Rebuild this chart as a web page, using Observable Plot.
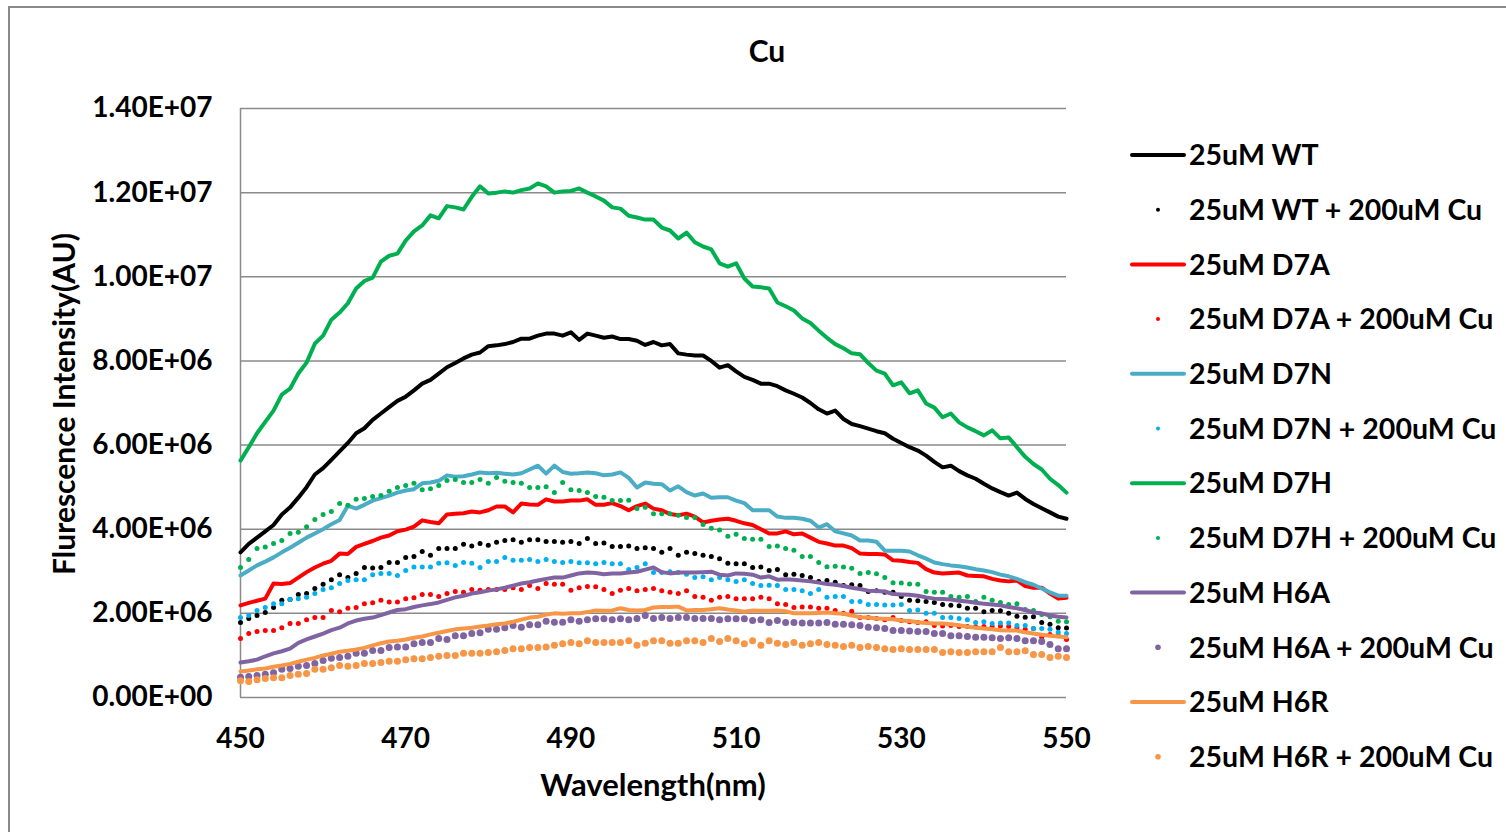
<!DOCTYPE html>
<html>
<head>
<meta charset="utf-8">
<script src="https://cdn.jsdelivr.net/npm/d3@7"></script>
<script src="https://cdn.jsdelivr.net/npm/@observablehq/plot@0.6"></script>
<style>
  body { margin: 0; background: #fff; overflow: hidden; }
  #wrap { position: relative; width: 1506px; height: 832px; }
  #frame { position: absolute; left: 8px; top: 6px; width: 1530px; height: 850px;
           border: 2px solid #8a8a8a; box-sizing: border-box; pointer-events: none; }
  #wrap svg { position: absolute; left: 0; top: 0; }
</style>
</head>
<body>
<div id="wrap"><div id="frame"></div></div>
<script>
// Fluorescence emission spectra (intensity in units of 1e6 AU), 450–550 nm in 1 nm steps
const wavelengths = d3.range(450, 551);
const xTicks = [450, 470, 490, 510, 530, 550];
const yTicks = [0, 2e6, 4e6, 6e6, 8e6, 10e6, 12e6, 14e6];

const wt = [3.45,3.65,3.8,3.95,4.1,4.35,4.52,4.75,5.0,5.3,5.45,5.65,5.85,6.05,6.28,6.4,6.6,6.75,6.9,7.05,
  7.15,7.3,7.46,7.55,7.7,7.85,7.95,8.06,8.15,8.2,8.35,8.37,8.4,8.45,8.53,8.53,8.6,8.65,8.65,8.6,
  8.68,8.5,8.65,8.6,8.55,8.58,8.52,8.52,8.48,8.38,8.45,8.37,8.4,8.18,8.15,8.13,8.13,8.0,7.84,7.9,
  7.75,7.62,7.55,7.46,7.46,7.4,7.3,7.22,7.13,7.0,6.85,6.75,6.82,6.62,6.5,6.45,6.39,6.33,6.28,6.15,
  6.05,5.95,5.87,5.75,5.6,5.47,5.51,5.38,5.28,5.2,5.08,4.97,4.88,4.8,4.87,4.72,4.6,4.5,4.4,4.3,4.25];
const wtCu = [1.78,1.88,1.95,2.02,2.14,2.31,2.33,2.45,2.47,2.59,2.69,2.8,2.92,2.85,2.95,3.09,3.08,3.09,3.21,3.21,3.33,
  3.35,3.47,3.38,3.54,3.54,3.54,3.64,3.6,3.66,3.62,3.69,3.73,3.75,3.69,3.75,3.75,3.71,3.71,3.69,3.71,
  3.66,3.78,3.66,3.67,3.59,3.59,3.6,3.54,3.56,3.54,3.45,3.54,3.38,3.45,3.42,3.38,3.35,3.3,3.19,3.18,
  3.18,3.09,3.1,3.02,3.04,2.92,2.93,2.9,2.85,2.76,2.78,2.74,2.66,2.68,2.66,2.52,2.54,2.5,2.5,
  2.4,2.31,2.3,2.28,2.26,2.21,2.19,2.18,2.12,2.12,2.04,2.07,2.06,2.0,1.93,1.91,1.92,1.78,1.74,1.66,1.65];
const d7a = [2.19,2.25,2.3,2.35,2.71,2.7,2.72,2.85,2.98,3.09,3.18,3.25,3.42,3.41,3.58,3.65,3.72,3.8,3.85,3.95,
  3.99,4.06,4.21,4.17,4.14,4.35,4.37,4.38,4.42,4.4,4.45,4.54,4.54,4.4,4.61,4.59,4.58,4.71,4.66,4.66,
  4.68,4.68,4.71,4.58,4.58,4.62,4.55,4.45,4.55,4.61,4.49,4.45,4.36,4.33,4.37,4.3,4.16,4.2,4.23,4.25,
  4.2,4.14,4.1,4.0,3.9,3.9,3.95,3.88,3.9,3.8,3.7,3.66,3.61,3.61,3.55,3.42,3.41,3.41,3.4,3.26,
  3.25,3.22,3.2,3.05,2.97,2.95,2.96,2.97,2.9,2.89,2.88,2.82,2.78,2.76,2.78,2.65,2.61,2.61,2.47,2.35,2.37];
const d7aCu = [1.4,1.52,1.57,1.59,1.59,1.66,1.76,1.76,1.85,1.9,1.9,2.07,2.04,2.12,2.14,2.23,2.25,2.31,2.27,2.27,2.35,
  2.37,2.45,2.45,2.4,2.47,2.52,2.5,2.57,2.55,2.57,2.57,2.57,2.61,2.57,2.66,2.59,2.71,2.69,2.69,2.55,
  2.61,2.64,2.63,2.57,2.47,2.55,2.59,2.54,2.57,2.59,2.54,2.5,2.47,2.54,2.4,2.38,2.31,2.38,2.4,2.35,
  2.35,2.35,2.38,2.35,2.23,2.21,2.14,2.15,2.15,2.12,2.12,2.07,2.0,2.05,1.9,1.9,1.88,1.85,1.9,
  1.83,1.8,1.78,1.8,1.71,1.7,1.71,1.69,1.69,1.68,1.69,1.69,1.7,1.69,1.66,1.62,1.64,1.43,1.5,1.47,1.38];
const d7n = [2.9,3.02,3.14,3.23,3.33,3.45,3.56,3.68,3.8,3.9,4.0,4.12,4.22,4.56,4.49,4.58,4.68,4.74,4.8,4.87,
  4.92,4.95,5.09,5.11,5.15,5.28,5.25,5.26,5.3,5.35,5.33,5.34,5.32,5.3,5.33,5.42,5.51,5.32,5.51,5.36,
  5.32,5.33,5.35,5.33,5.28,5.3,5.35,5.22,4.99,5.11,5.08,5.07,4.92,5.02,4.88,4.8,4.85,4.75,4.76,4.76,
  4.68,4.62,4.45,4.45,4.45,4.3,4.27,4.27,4.25,4.2,4.04,4.12,3.95,3.9,3.85,3.73,3.73,3.7,3.49,3.49,
  3.49,3.47,3.38,3.3,3.21,3.17,3.14,3.12,3.09,3.05,3.02,2.98,2.92,2.88,2.82,2.74,2.68,2.59,2.5,2.42,2.42];
const d7nCu = [1.9,1.95,2.07,2.14,2.23,2.23,2.33,2.35,2.38,2.47,2.57,2.61,2.71,2.78,2.8,2.8,2.92,2.95,2.95,2.9,3.02,
  3.1,3.1,3.1,3.19,3.2,3.14,3.21,3.19,3.09,3.23,3.23,3.33,3.26,3.26,3.28,3.23,3.28,3.23,3.21,3.23,
  3.2,3.2,3.18,3.21,3.18,3.18,3.04,3.09,3.18,2.97,2.97,2.99,2.97,2.93,2.85,2.87,2.8,2.85,2.8,2.76,
  2.8,2.71,2.66,2.67,2.66,2.57,2.57,2.54,2.47,2.57,2.38,2.4,2.4,2.28,2.28,2.21,2.21,2.2,2.2,
  2.21,2.07,2.08,2.0,2.0,1.9,1.9,1.88,1.85,1.78,1.8,1.76,1.77,1.77,1.71,1.71,1.64,1.64,1.62,1.55,1.52];
const d7h = [5.63,5.95,6.28,6.55,6.82,7.2,7.34,7.7,7.96,8.41,8.6,8.98,9.15,9.37,9.72,9.9,9.98,10.36,10.5,10.55,
  10.86,11.08,11.22,11.46,11.39,11.68,11.65,11.6,11.9,12.15,11.98,12.0,12.03,12.0,12.06,12.1,12.22,12.15,12.0,12.03,
  12.04,12.1,12.0,11.91,11.81,11.65,11.62,11.45,11.41,11.36,11.36,11.17,11.1,10.91,11.05,10.82,10.72,10.65,10.32,10.24,
  10.32,9.96,9.77,9.75,9.72,9.39,9.3,9.2,9.01,8.9,8.72,8.55,8.4,8.3,8.18,8.16,7.95,7.77,7.7,7.42,
  7.49,7.23,7.3,6.99,6.89,6.66,6.75,6.54,6.42,6.33,6.23,6.35,6.16,6.18,5.95,5.72,5.55,5.42,5.2,5.05,4.87];
const d7hCu = [3.09,3.28,3.54,3.58,3.66,3.73,3.9,3.93,4.06,4.23,4.35,4.42,4.61,4.57,4.71,4.73,4.78,4.8,4.9,4.99,5.04,
  5.09,4.94,4.96,5.04,5.16,5.18,5.11,5.11,5.18,5.09,5.23,5.14,5.11,5.09,4.99,4.99,5.01,4.87,5.11,4.94,
  4.92,4.87,4.78,4.76,4.68,4.68,4.69,4.49,4.52,4.37,4.37,4.37,4.33,4.28,4.28,4.11,4.02,3.98,3.83,3.88,
  3.78,3.76,3.76,3.59,3.6,3.54,3.5,3.35,3.35,3.21,3.11,3.12,3.1,3.07,2.95,2.97,2.94,2.85,2.73,
  2.72,2.7,2.69,2.52,2.5,2.5,2.4,2.38,2.4,2.28,2.38,2.31,2.26,2.21,2.23,2.09,2.07,1.97,1.92,1.81,1.8];
const h6a = [0.83,0.86,0.9,0.98,1.05,1.1,1.16,1.3,1.38,1.45,1.52,1.6,1.66,1.76,1.83,1.87,1.9,1.96,2.02,2.08,
  2.1,2.15,2.19,2.22,2.26,2.32,2.38,2.42,2.47,2.5,2.54,2.57,2.61,2.66,2.71,2.74,2.78,2.82,2.85,2.85,
  2.9,2.95,2.97,2.96,2.93,2.95,2.95,2.97,2.99,3.04,3.09,2.98,2.95,2.97,2.97,2.97,2.98,2.99,2.92,2.9,
  2.95,2.94,2.92,2.85,2.88,2.8,2.81,2.8,2.78,2.76,2.73,2.7,2.68,2.65,2.61,2.58,2.54,2.53,2.52,2.46,
  2.45,2.44,2.42,2.38,2.35,2.34,2.33,2.3,2.28,2.25,2.23,2.21,2.19,2.15,2.12,2.08,2.02,2.0,1.95,1.92,1.9];
const h6aCu = [0.48,0.5,0.52,0.55,0.59,0.67,0.69,0.74,0.76,0.81,0.88,0.93,0.95,0.98,1.05,1.05,1.12,1.12,1.19,1.2,1.2,
  1.28,1.31,1.31,1.4,1.38,1.47,1.47,1.52,1.54,1.62,1.62,1.66,1.71,1.67,1.73,1.73,1.81,1.79,1.79,1.85,
  1.81,1.85,1.87,1.87,1.85,1.87,1.85,1.88,1.95,1.88,1.9,1.88,1.9,1.9,1.88,1.88,1.88,1.85,1.87,1.87,
  1.87,1.83,1.85,1.78,1.83,1.78,1.78,1.77,1.77,1.77,1.78,1.74,1.74,1.73,1.71,1.67,1.66,1.64,1.59,
  1.59,1.58,1.57,1.57,1.52,1.52,1.47,1.47,1.45,1.43,1.43,1.42,1.4,1.42,1.4,1.35,1.35,1.33,1.26,1.16,1.16];
const h6r = [0.62,0.64,0.67,0.69,0.73,0.76,0.8,0.85,0.9,0.94,1.0,1.04,1.09,1.11,1.14,1.18,1.24,1.29,1.33,1.35,
  1.38,1.42,1.45,1.5,1.54,1.58,1.62,1.64,1.66,1.69,1.71,1.74,1.76,1.8,1.85,1.9,1.92,1.97,2.0,1.99,
  2.0,2.0,2.03,2.07,2.06,2.07,2.12,2.08,2.07,2.08,2.14,2.15,2.15,2.16,2.07,2.08,2.08,2.1,2.12,2.09,
  2.07,2.04,2.07,2.06,2.06,2.07,2.05,2.0,2.0,2.0,2.01,2.02,2.0,1.99,1.95,1.91,1.9,1.88,1.87,1.86,
  1.83,1.82,1.79,1.77,1.76,1.76,1.74,1.72,1.68,1.66,1.64,1.62,1.6,1.59,1.59,1.55,1.52,1.49,1.47,1.45,1.43];
const h6rCu = [0.4,0.38,0.42,0.45,0.47,0.47,0.52,0.55,0.57,0.67,0.67,0.71,0.76,0.74,0.76,0.81,0.81,0.83,0.86,0.86,0.9,
  0.92,0.92,0.95,0.98,1.0,1.0,1.05,1.05,1.05,1.07,1.09,1.12,1.16,1.16,1.19,1.19,1.2,1.24,1.28,1.31,
  1.28,1.35,1.31,1.31,1.31,1.31,1.35,1.24,1.29,1.35,1.35,1.29,1.29,1.35,1.35,1.31,1.4,1.33,1.4,1.35,
  1.28,1.35,1.24,1.35,1.29,1.26,1.31,1.24,1.28,1.31,1.26,1.24,1.21,1.24,1.19,1.21,1.19,1.16,1.14,
  1.16,1.14,1.14,1.14,1.14,1.07,1.09,1.07,1.07,1.09,1.09,1.09,1.19,1.09,1.09,1.11,1.02,1.02,0.95,0.98,0.95];

// Series in drawing / legend order
const series = [
  {name: "25uM WT",                 values: wt,    kind: "line", color: "#000000"},
  {name: "25uM WT + 200uM Cu",      values: wtCu,  kind: "dot",  color: "#000000", r: 2.5},
  {name: "25uM D7A",                values: d7a,   kind: "line", color: "#FF0000"},
  {name: "25uM D7A + 200uM Cu",     values: d7aCu, kind: "dot",  color: "#FF0000", r: 2.5},
  {name: "25uM D7N",                values: d7n,   kind: "line", color: "#4BACC6"},
  {name: "25uM D7N + 200uM Cu",     values: d7nCu, kind: "dot",  color: "#00B0F0", r: 2.5},
  {name: "25uM D7H",                values: d7h,   kind: "line", color: "#00B050"},
  {name: "25uM D7H + 200uM Cu",     values: d7hCu, kind: "dot",  color: "#00B050", r: 2.5},
  {name: "25uM H6A",                values: h6a,   kind: "line", color: "#8064A2"},
  {name: "25uM H6A + 200uM Cu",     values: h6aCu, kind: "dot",  color: "#8064A2", r: 3.5},
  {name: "25uM H6R",                values: h6r,   kind: "line", color: "#F79646"},
  {name: "25uM H6R + 200uM Cu",     values: h6rCu, kind: "dot",  color: "#F79646", r: 3.5}
];

const rows = s => s.values.map((v, i) => ({nm: wavelengths[i], au: v * 1e6}));

// Excel-style scientific labels, e.g. 1.40E+07
const sci = d => {
  const [m, e] = d.toExponential(2).split("e");
  const n = +e;
  return m + "E" + (n < 0 ? "-" : "+") + String(Math.abs(n)).padStart(2, "0");
};

const seriesMarks = series.map(s => s.kind === "line"
  ? Plot.line(rows(s), {x: "nm", y: "au", stroke: s.color, strokeWidth: 4, strokeLinejoin: "round", strokeLinecap: "round"})
  : Plot.dot(rows(s), {x: "nm", y: "au", r: s.r, fill: s.color, stroke: null}));

const font = "Lato, 'Open Sans', sans-serif";

const chart = Plot.plot({
  width: 1506,
  height: 832,
  marginLeft: 240,
  marginRight: 440,
  marginTop: 108,
  marginBottom: 135,
  x: {domain: [450, 550]},
  y: {domain: [0, 14e6]},
  style: {fontFamily: font, fontWeight: 700, fontSize: "28px", color: "#000", background: "transparent", overflow: "visible"},
  marks: [
    Plot.ruleY(yTicks, {stroke: "#8a8a8a", strokeWidth: 1.5}),
    Plot.ruleX([450], {stroke: "#8a8a8a", strokeWidth: 1.5}),
    Plot.axisX({ticks: xTicks, tickSize: 0, tickPadding: 31, label: null, tickFormat: d => String(d)}),
    Plot.axisY({ticks: yTicks, tickSize: 0, tickPadding: 28, label: null, tickFormat: sci}),
    ...seriesMarks
  ]
});

document.getElementById("wrap").appendChild(chart);

// Title, axis titles and legend drawn on the same SVG
const svg = d3.select(chart);
const txt = (x, y, s, size, anchor = "middle") =>
  svg.append("text").attr("x", x).attr("y", y).attr("text-anchor", anchor)
    .attr("font-family", font).attr("font-weight", 700).attr("font-size", size)
    .attr("fill", "#000").text(s);

txt(767, 62, "Cu", 30);
txt(653, 796, "Wavelength(nm)", 31);
txt(0, 0, "Flurescence Intensity(AU)", 30)
  .attr("transform", "translate(75,404) rotate(-90)");

const legend = svg.append("g");
series.forEach((s, i) => {
  const y = 155 + i * 54.7;
  if (s.kind === "line") {
    legend.append("line").attr("x1", 1132).attr("x2", 1184).attr("y1", y).attr("y2", y)
      .attr("stroke", s.color).attr("stroke-width", 4).attr("stroke-linecap", "round");
  } else {
    legend.append("circle").attr("cx", 1158).attr("cy", y).attr("r", s.r * 0.8).attr("fill", s.color);
  }
  txt(1189, y, s.name, 28.5, "start").attr("dy", "0.36em");
});
</script>
</body>
</html>
